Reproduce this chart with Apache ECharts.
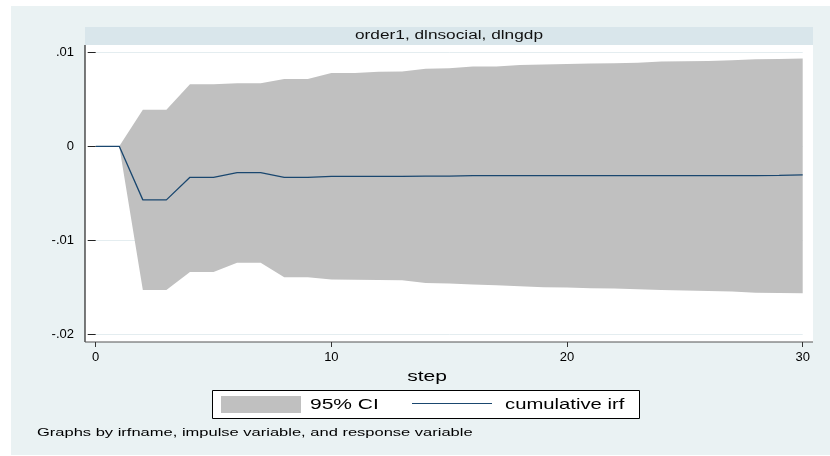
<!DOCTYPE html>
<html>
<head>
<meta charset="utf-8">
<title>irf</title>
<script src="https://cdn.jsdelivr.net/npm/echarts@6/dist/echarts.min.js"></script>
<style>
    html, body { margin: 0; padding: 0; background: #fff; }
    #chart { width: 830px; height: 456px; }
</style>
</head>
<body>
<div id="chart"></div>
<script>
//----------------------------------------------------------------------------------
// 数据
//----------------------------------------------------------------------------------

var steps = [0, 1, 2, 3, 4, 5, 6, 7, 8, 9, 10, 11, 12, 13, 14, 15, 16, 17, 18, 19, 20,
    21, 22, 23, 24, 25, 26, 27, 28, 29, 30];

// cumulative irf
var irf = [0, 0, -0.0057, -0.0057, -0.0033, -0.0033, -0.0028, -0.0028, -0.0033, -0.0033,
    -0.0032, -0.0032, -0.0032, -0.0032, -0.00318, -0.00318, -0.00313, -0.00313, -0.00313,
    -0.00313, -0.00313, -0.00313, -0.00313, -0.00313, -0.00313, -0.00313, -0.00313,
    -0.00313, -0.00313, -0.0031, -0.00305];

// 95% CI 上下界
var ciUpper = [0, 0, 0.0039, 0.0039, 0.0066, 0.0066, 0.0067, 0.0067, 0.00716, 0.00716,
    0.0078, 0.0078, 0.00794, 0.00797, 0.00826, 0.0083, 0.00848, 0.0085, 0.00865, 0.0087,
    0.00876, 0.0088, 0.00883, 0.0089, 0.00901, 0.00904, 0.00908, 0.00915, 0.00926, 0.00929,
    0.00933];
var ciLower = [0, 0, -0.0153, -0.0153, -0.01337, -0.01337, -0.01238, -0.01238, -0.01394,
    -0.01394, -0.01418, -0.0142, -0.01422, -0.01426, -0.01454, -0.0146, -0.01471, -0.01479,
    -0.01489, -0.015, -0.01503, -0.01511, -0.01514, -0.01521, -0.01528, -0.01535, -0.01539,
    -0.01546, -0.01557, -0.0156, -0.01564];

var yTickLabels = { '-0.02': '-.02', '-0.01': '-.01', '0': '0', '0.01': '.01' };

var titleText = 'order1, dlnsocial, dlngdp';
var xName = 'step';
var legendNames = ['95% CI', 'cumulative irf'];
var noteText = 'Graphs by irfname, impulse variable, and response variable';

//----------------------------------------------------------------------------------
// 绘图
//----------------------------------------------------------------------------------

var FONT = '"Liberation Sans", Arial, Helvetica, sans-serif';
var BAND = '#c0c0c0';
var NAVY = '#1a476f';

function irfChartFn() {
    var chart = echarts.init(document.getElementById('chart'), null, { renderer: 'canvas' });

    var ciData = [];
    var irfData = [];
    for (var i = 0; i < steps.length; i++) {
        ciData.push([steps[i], ciLower[i], ciUpper[i]]);
        irfData.push([steps[i], irf[i]]);
    }

    // 置信带: 用坐标轴换算成多边形
    function renderBand(params, api) {
        if (params.dataIndex !== 0) return null;
        var pts = [];
        for (var j = 0; j < steps.length; j++) {
            pts.push(api.coord([steps[j], ciUpper[j]]));
        }
        for (var k = steps.length - 1; k >= 0; k--) {
            pts.push(api.coord([steps[k], ciLower[k]]));
        }
        return {
            type: 'polygon',
            shape: { points: pts },
            style: { fill: BAND, stroke: null }
        };
    }

    var option = {
        backgroundColor: '#eaf2f3',
        animation: false,
        grid: {
            left: 95.7,
            right: 27.3,
            top: 52.3,
            bottom: 121.7,
            show: false
        },
        xAxis: {
            type: 'value',
            min: 0,
            max: 30,
            interval: 10,
            offset: 7.7,
            axisLine: { show: false, onZero: false },
            axisTick: { show: true, length: 5, lineStyle: { color: '#333' } },
            axisLabel: { margin: 9, color: '#000', fontFamily: FONT, fontSize: 13 },
            splitLine: { show: false }
        },
        yAxis: {
            type: 'value',
            min: -0.02,
            max: 0.01,
            interval: 0.01,
            offset: 10.7,
            axisLine: { show: false },
            axisTick: { show: true, length: 8, lineStyle: { color: '#222' } },
            axisLabel: {
                margin: 11,
                color: '#000',
                fontFamily: FONT,
                fontSize: 13,
                formatter: function(v) {
                    var key = String(Math.round(v * 100) / 100);
                    return yTickLabels[key] !== undefined ? yTickLabels[key] : '';
                }
            },
            splitLine: { show: true, lineStyle: { color: '#e4edf0', width: 1 } }
        },
        series: [{
            type: 'custom',
            name: legendNames[0],
            data: ciData,
            encode: { x: 0, y: [1, 2] },
            renderItem: renderBand,
            silent: true,
            z: 2
        }, {
            type: 'line',
            name: legendNames[1],
            data: irfData,
            symbol: 'none',
            silent: true,
            lineStyle: { color: NAVY, width: 1.3 },
            z: 3
        }],
        graphic: [
            // 外框白边
            { type: 'rect', shape: { x: 0, y: 0, width: 11, height: 456 }, style: { fill: '#fff' }, silent: true },
            { type: 'rect', shape: { x: 0, y: 0, width: 830, height: 6 }, style: { fill: '#fff' }, silent: true },
            { type: 'rect', shape: { x: 0, y: 455, width: 830, height: 1 }, style: { fill: '#fff' }, silent: true },
            // 绘图区白底和轴线
            { type: 'rect', z: -1, shape: { x: 85, y: 45, width: 728, height: 297 }, style: { fill: '#fff' }, silent: true },
            { type: 'line', shape: { x1: 85, y1: 45, x2: 85, y2: 342 }, style: { stroke: '#222', lineWidth: 1.2 }, silent: true },
            { type: 'line', shape: { x1: 85, y1: 342, x2: 813, y2: 342 }, style: { stroke: '#555', lineWidth: 1.2 }, silent: true },
            // 标题条
            { type: 'rect', shape: { x: 85, y: 27, width: 728, height: 18 }, style: { fill: '#d9e6eb' }, silent: true },
            {
                type: 'text', x: 449, y: 36, scaleX: 1.38, silent: true,
                style: { text: titleText, font: '12.5px ' + FONT, fill: '#111', textAlign: 'center', textVerticalAlign: 'middle' }
            },
            // x 轴标题
            {
                type: 'text', x: 427, y: 377, scaleX: 1.45, silent: true,
                style: { text: xName, font: '14.5px ' + FONT, fill: '#000', textAlign: 'center', textVerticalAlign: 'middle' }
            },
            // 图例
            { type: 'rect', shape: { x: 212.5, y: 390.5, width: 427, height: 28 }, style: { fill: '#fff', stroke: '#000', lineWidth: 1 }, silent: true },
            { type: 'rect', shape: { x: 221, y: 396, width: 80, height: 17 }, style: { fill: BAND }, silent: true },
            {
                type: 'text', x: 310, y: 404.5, scaleX: 1.4, silent: true,
                style: { text: legendNames[0], font: '15px ' + FONT, fill: '#000', textAlign: 'left', textVerticalAlign: 'middle' }
            },
            { type: 'line', shape: { x1: 412, y1: 403.5, x2: 492, y2: 403.5 }, style: { stroke: NAVY, lineWidth: 1.2 }, silent: true },
            {
                type: 'text', x: 505, y: 404.5, scaleX: 1.35, silent: true,
                style: { text: legendNames[1], font: '15px ' + FONT, fill: '#000', textAlign: 'left', textVerticalAlign: 'middle' }
            },
            // 注释
            {
                type: 'text', x: 37, y: 433, scaleX: 1.5, silent: true,
                style: { text: noteText, font: '11px ' + FONT, fill: '#000', textAlign: 'left', textVerticalAlign: 'middle' }
            }
        ]
    };

    chart.setOption(option);
}

irfChartFn();
</script>
</body>
</html>
